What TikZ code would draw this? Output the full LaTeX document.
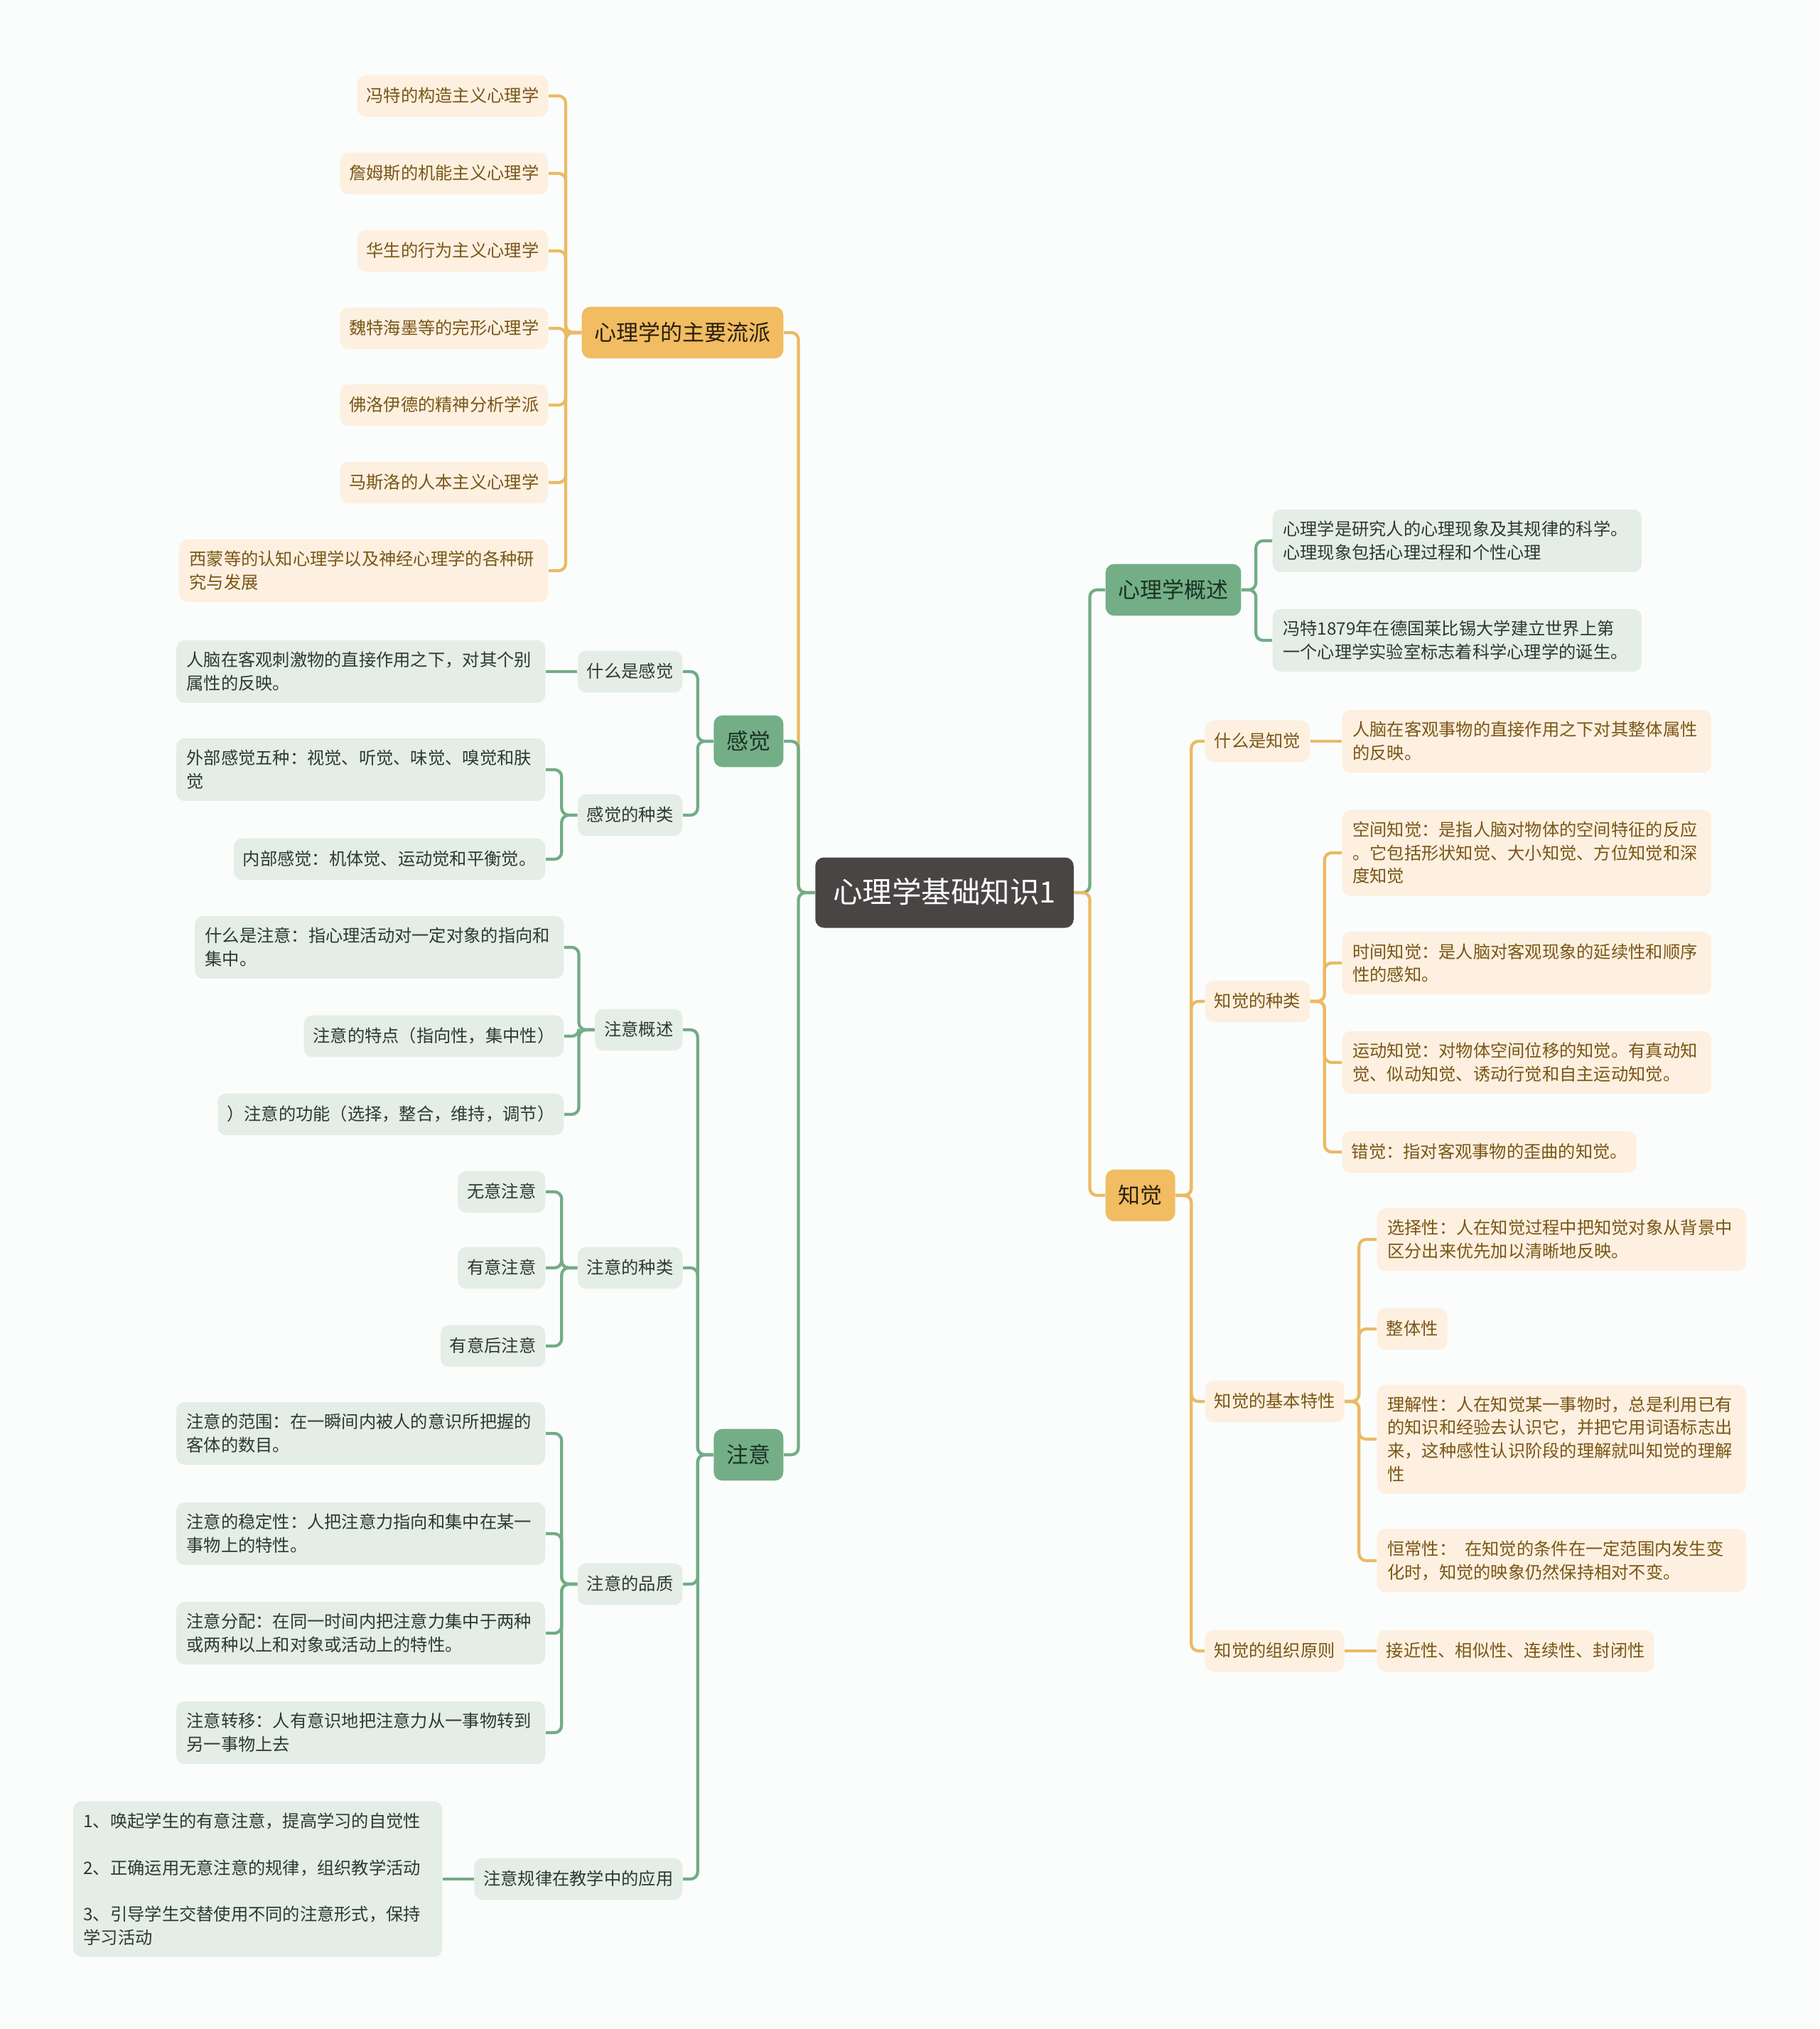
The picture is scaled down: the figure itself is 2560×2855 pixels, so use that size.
\documentclass[tikz,border=0pt]{standalone}
\usepackage{fontspec}
\newfontfamily\cjk{Noto Sans CJK SC}
\definecolor{bgcol}{RGB}{250,253,252}
\definecolor{rootgray}{RGB}{74,69,69}
\definecolor{orangefill}{RGB}{241,188,98}
\definecolor{orangepale}{RGB}{253,240,224}
\definecolor{orangetext}{RGB}{122,86,22}
\definecolor{orangedark}{RGB}{42,31,14}
\definecolor{orangeedge}{RGB}{236,185,100}
\definecolor{greenfill}{RGB}{116,174,134}
\definecolor{greenpale}{RGB}{228,238,230}
\definecolor{greentext}{RGB}{44,58,48}
\definecolor{greendark}{RGB}{26,50,36}
\definecolor{greenedge}{RGB}{114,172,133}

\begin{document}
\begin{tikzpicture}[x=0.01cm,y=-0.01cm,
  rootbox/.style={fill=rootgray,text=white,rounded corners=0.12cm,inner xsep=0.25cm,inner ysep=0.275cm,
    text height=10.5pt,text depth=2pt,font=\cjk\fontsize{11.8}{14}\selectfont},
  orangebig/.style={fill=orangefill,text=orangedark,rounded corners=0.12cm,inner xsep=0.18cm,inner ysep=0.2cm,
    text height=7.8pt,text depth=1.5pt,font=\cjk\fontsize{8.8}{11}\selectfont},
  greenbig/.style={orangebig,fill=greenfill,text=greendark},
  orangebox/.style={fill=orangepale,text=orangetext,rounded corners=0.12cm,inner xsep=0.13cm,inner ysep=0.165cm,
    text height=6.1pt,text depth=1.2pt,font=\cjk\fontsize{6.9}{9.3}\selectfont},
  greenbox/.style={orangebox,fill=greenpale,text=greentext},
  widebox/.style={text width=4.9cm,align=left,inner xsep=0.145cm,text height={},text depth={}},
  orangelink/.style={draw=orangeedge,line width=1.2pt,rounded corners=0.1cm},
  greenlink/.style={draw=greenedge,line width=1.2pt,rounded corners=0.1cm}]

\fill[bgcol] (0,0) rectangle (2560,2855);

\node[rootbox] (root) at (1329,1256) {心理学基础知识1};

\node[orangebig,anchor=east] (liupai) at (1103,468) {心理学的主要流派};
\node[greenbig,anchor=east] (ganjue) at (1103,1043) {感觉};
\node[greenbig,anchor=east] (zhuyi) at (1103,2047) {注意};
\node[greenbig,anchor=west] (gaishu) at (1555,830) {心理学概述};
\node[orangebig,anchor=west] (zhijue) at (1555,1682) {知觉};

\node[orangebox,anchor=east] (lp1) at (772,135) {冯特的构造主义心理学};
\node[orangebox,anchor=east] (lp2) at (772,244) {詹姆斯的机能主义心理学};
\node[orangebox,anchor=east] (lp3) at (772,353) {华生的行为主义心理学};
\node[orangebox,anchor=east] (lp4) at (772,462) {魏特海墨等的完形心理学};
\node[orangebox,anchor=east] (lp5) at (772,570) {佛洛伊德的精神分析学派};
\node[orangebox,anchor=east] (lp6) at (772,679) {马斯洛的人本主义心理学};
\node[orangebox,widebox,anchor=east] (lp7) at (772,803) {西蒙等的认知心理学以及神经心理学的各种研\\究与发展};

\node[greenbox,anchor=east] (gj1) at (961,945) {什么是感觉};
\node[greenbox,anchor=east] (gj2) at (961,1147) {感觉的种类};
\node[greenbox,widebox,anchor=east] (gj1a) at (768,945) {人脑在客观刺激物的直接作用之下，对其个别\\属性的反映。};
\node[greenbox,widebox,anchor=east] (gj2a) at (768,1083) {外部感觉五种：视觉、听觉、味觉、嗅觉和肤\\觉};
\node[greenbox,anchor=east] (gj2b) at (768,1209) {内部感觉：机体觉、运动觉和平衡觉。};

\node[greenbox,anchor=east] (zy1) at (961,1449) {注意概述};
\node[greenbox,anchor=east] (zy2) at (961,1784) {注意的种类};
\node[greenbox,anchor=east] (zy3) at (961,2229) {注意的品质};
\node[greenbox,anchor=east] (zy4) at (961,2644) {注意规律在教学中的应用};
\node[greenbox,widebox,anchor=east] (zy1a) at (794,1333) {什么是注意：指心理活动对一定对象的指向和\\集中。};
\node[greenbox,anchor=east] (zy1b) at (794,1458) {注意的特点（指向性，集中性）};
\node[greenbox,anchor=east] (zy1c) at (794,1568) {）注意的功能（选择，整合，维持，调节）};
\node[greenbox,anchor=east] (zy2a) at (768,1677) {无意注意};
\node[greenbox,anchor=east] (zy2b) at (768,1784) {有意注意};
\node[greenbox,anchor=east] (zy2c) at (768,1894) {有意后注意};
\node[greenbox,widebox,anchor=east] (zy3a) at (768,2017) {注意的范围：在一瞬间内被人的意识所把握的\\客体的数目。};
\node[greenbox,widebox,anchor=east] (zy3b) at (768,2158) {注意的稳定性：人把注意力指向和集中在某一\\事物上的特性。};
\node[greenbox,widebox,anchor=east] (zy3c) at (768,2298) {注意分配：在同一时间内把注意力集中于两种\\或两种以上和对象或活动上的特性。};
\node[greenbox,widebox,anchor=east] (zy3d) at (768,2438) {注意转移：人有意识地把注意力从一事物转到\\另一事物上去};
\node[greenbox,widebox,anchor=east] (zy4a) at (623,2644) {1、唤起学生的有意注意，提高学习的自觉性\\[9.3pt]2、正确运用无意注意的规律，组织教学活动\\[9.3pt]3、引导学生交替使用不同的注意形式，保持\\学习活动};

\node[greenbox,widebox,anchor=west] (gs1) at (1790,761) {心理学是研究人的心理现象及其规律的科学。\\心理现象包括心理过程和个性心理};
\node[greenbox,widebox,anchor=west] (gs2) at (1790,901) {冯特1879年在德国莱比锡大学建立世界上第\\一个心理学实验室标志着科学心理学的诞生。};

\node[orangebox,anchor=west] (zj1) at (1695,1043) {什么是知觉};
\node[orangebox,anchor=west] (zj2) at (1695,1409) {知觉的种类};
\node[orangebox,anchor=west] (zj3) at (1695,1972) {知觉的基本特性};
\node[orangebox,anchor=west] (zj4) at (1695,2323) {知觉的组织原则};
\node[orangebox,widebox,anchor=west] (zj1a) at (1888,1043) {人脑在客观事物的直接作用之下对其整体属性\\的反映。};
\node[orangebox,widebox,anchor=west] (zj2a) at (1888,1200) {空间知觉：是指人脑对物体的空间特征的反应\\。它包括形状知觉、大小知觉、方位知觉和深\\度知觉};
\node[orangebox,widebox,anchor=west] (zj2b) at (1888,1355) {时间知觉：是人脑对客观现象的延续性和顺序\\性的感知。};
\node[orangebox,widebox,anchor=west] (zj2c) at (1888,1495) {运动知觉：对物体空间位移的知觉。有真动知\\觉、似动知觉、诱动行觉和自主运动知觉。};
\node[orangebox,anchor=west] (zj2d) at (1888,1621) {错觉：指对客观事物的歪曲的知觉。};
\node[orangebox,widebox,anchor=west] (zj3a) at (1937,1744) {选择性：人在知觉过程中把知觉对象从背景中\\区分出来优先加以清晰地反映。};
\node[orangebox,anchor=west] (zj3b) at (1937,1870) {整体性};
\node[orangebox,widebox,anchor=west] (zj3c) at (1937,2025) {理解性：人在知觉某一事物时，总是利用已有\\的知识和经验去认识它，并把它用词语标志出\\来，这种感性认识阶段的理解就叫知觉的理解\\性};
\node[orangebox,widebox,anchor=west] (zj3d) at (1937,2196) {恒常性：\hspace{0.5em}在知觉的条件在一定范围内发生变\\化时，知觉的映象仍然保持相对不变。};
\node[orangebox,anchor=west] (zj4a) at (1937,2323) {接近性、相似性、连续性、封闭性};

\draw[orangelink] (root.west) -- ++(-23,0) |- (liupai.east);
\foreach \c in {ganjue,zhuyi} \draw[greenlink] (root.west) -- ++(-23,0) |- (\c.east);
\draw[greenlink] (root.east) -- ++(22,0) |- (gaishu.west);
\draw[orangelink] (root.east) -- ++(22,0) |- (zhijue.west);

\foreach \i in {1,...,7} \draw[orangelink] (liupai.west) -- ++(-22,0) |- (lp\i.east);
\foreach \c in {gj1,gj2} \draw[greenlink] (ganjue.west) -- ++(-22,0) |- (\c.east);
\draw[greenlink] (gj1.west) -- (gj1a.east);
\foreach \c in {gj2a,gj2b} \draw[greenlink] (gj2.west) -- ++(-22,0) |- (\c.east);
\foreach \i in {1,...,4} \draw[greenlink] (zhuyi.west) -- ++(-22,0) |- (zy\i.east);
\foreach \c in {zy1a,zy1b,zy1c} \draw[greenlink] (zy1.west) -- ++(-22,0) |- (\c.east);
\foreach \c in {zy2a,zy2b,zy2c} \draw[greenlink] (zy2.west) -- ++(-22,0) |- (\c.east);
\foreach \c in {zy3a,zy3b,zy3c,zy3d} \draw[greenlink] (zy3.west) -- ++(-22,0) |- (\c.east);
\draw[greenlink] (zy4.west) -- (zy4a.east);

\foreach \c in {gs1,gs2} \draw[greenlink] (gaishu.east) -- ++(20,0) |- (\c.west);
\foreach \i in {1,...,4} \draw[orangelink] (zhijue.east) -- ++(22,0) |- (zj\i.west);
\draw[orangelink] (zj1.east) -- (zj1a.west);
\foreach \c in {zj2a,zj2b,zj2c,zj2d} \draw[orangelink] (zj2.east) -- ++(20,0) |- (\c.west);
\foreach \c in {zj3a,zj3b,zj3c,zj3d} \draw[orangelink] (zj3.east) -- ++(20,0) |- (\c.west);
\draw[orangelink] (zj4.east) -- (zj4a.west);

\end{tikzpicture}
\end{document}
